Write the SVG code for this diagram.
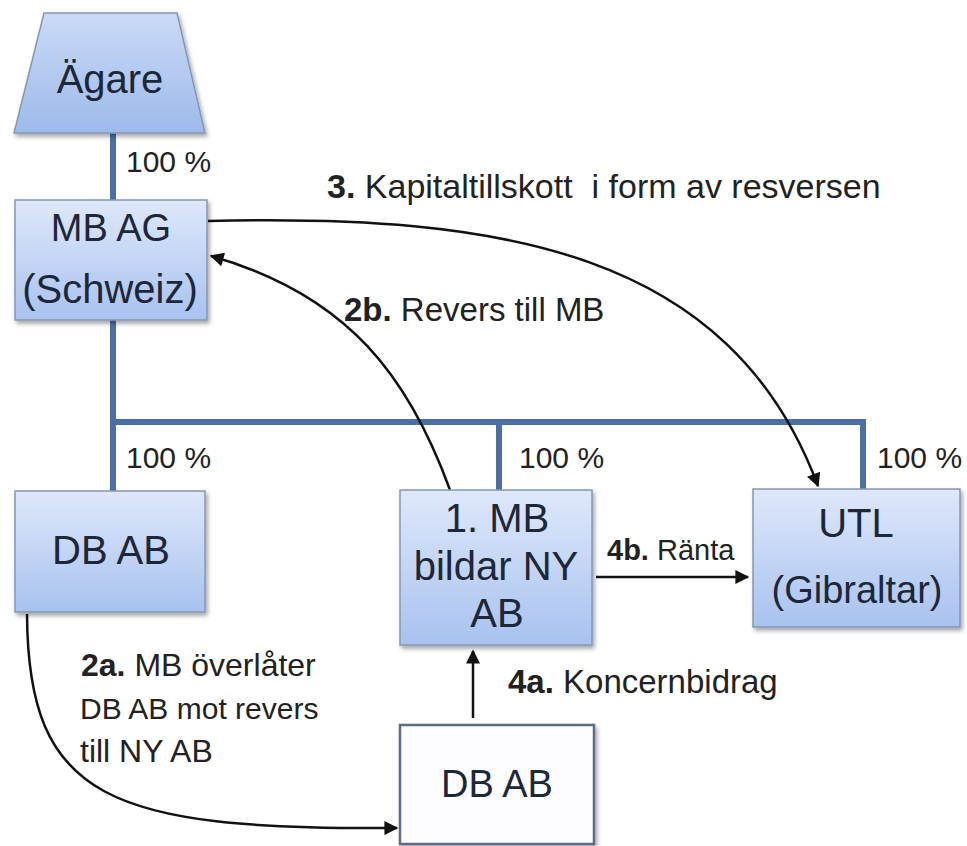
<svg xmlns="http://www.w3.org/2000/svg" width="967" height="846" viewBox="0 0 967 846">
<style>
  .node { stroke: #8596b4; stroke-width: 1.5; filter: url(#shadow); }
  .fill { fill: url(#nodeFill); }
  .ntext { font-family: "Liberation Sans", Arial, sans-serif; font-size: 38px; fill: #1c2738; text-anchor: middle; }
  .lbl { font-family: "Liberation Sans", Arial, sans-serif; font-size: 29px; fill: #222; }
  .own { stroke: #4a6fa5; stroke-width: 6; fill: none; }
  .arr { stroke: #111; stroke-width: 2.5; fill: none; marker-end: url(#ah); }
  .b { font-weight: bold; }
</style>
<defs>
  <linearGradient id="nodeFill" x1="0" y1="0" x2="0" y2="1">
    <stop offset="0" stop-color="#dfe8fb"/>
    <stop offset="1" stop-color="#a8c2ef"/>
  </linearGradient>
  <linearGradient id="trapFill" x1="0" y1="0" x2="0" y2="1">
    <stop offset="0" stop-color="#cbdaf6"/>
    <stop offset="1" stop-color="#9dbaeb"/>
  </linearGradient>
  <filter id="shadow" x="-10%" y="-10%" width="125%" height="130%">
    <feDropShadow dx="2" dy="3" stdDeviation="2" flood-color="#000" flood-opacity="0.35"/>
  </filter>
  <marker id="ah" viewBox="0 0 10 10" refX="9" refY="5" markerWidth="17" markerHeight="14" markerUnits="userSpaceOnUse" orient="auto">
    <path d="M0,0 L10,5 L0,10 z" fill="#111"/>
  </marker>
</defs>

<g id="connectors">
  <line class="own" x1="113" y1="133" x2="113" y2="200"/>
  <line class="own" x1="113" y1="320" x2="113" y2="491"/>
  <polyline class="own" points="110,422 863,422 863,489"/>
  <line class="own" x1="499" y1="422" x2="499" y2="490"/>

  <path class="arr" d="M208,221 C500,214 730,250 818,486"/>
  <path class="arr" d="M450,490 C410,380 350,295 211,256"/>
  <path class="arr" d="M27,614 C28,800 110,830 397,828"/>
  <line class="arr" x1="596" y1="577" x2="748" y2="577"/>
  <line class="arr" x1="473" y1="718" x2="473" y2="651"/>

  <text class="lbl" x="126" y="172" style="font-size:30px">100 %</text>
  <text class="lbl" x="126" y="468" style="font-size:30px">100 %</text>
  <text class="lbl" x="519" y="468" style="font-size:30px">100 %</text>
  <text class="lbl" x="877" y="468" style="font-size:30px">100 %</text>

  <text class="lbl" x="327" y="198" style="font-size:34px" xml:space="preserve"><tspan class="b">3.</tspan> Kapitaltillskott  i form av resversen</text>
  <text class="lbl" x="344" y="321" style="font-size:33px"><tspan class="b">2b.</tspan> Revers till MB</text>
  <text class="lbl" x="81" y="676" style="font-size:32px"><tspan class="b">2a.</tspan> MB överlåter</text>
  <text class="lbl" x="80" y="719" style="font-size:30px">DB AB mot revers</text>
  <text class="lbl" x="80" y="762" style="font-size:32px">till NY AB</text>
  <text class="lbl" x="607" y="560" style="font-size:29px"><tspan class="b">4b.</tspan> Ränta</text>
  <text class="lbl" x="508" y="693" style="font-size:33px"><tspan class="b">4a.</tspan> Koncernbidrag</text>
</g>

<g id="agare">
  <polygon class="node" fill="url(#trapFill)" points="44,13 177,13 205,133 14,133"/>
  <text class="ntext" x="110" y="93" style="font-size:40px">Ägare</text>
</g>

<g id="mbag">
  <rect class="node fill" x="15" y="200" width="192" height="120"/>
  <text class="ntext" x="111" y="241">MB AG</text>
  <text class="ntext" x="110" y="303" style="font-size:40px">(Schweiz)</text>
</g>

<g id="dbab1">
  <rect class="node fill" x="15" y="491" width="190" height="121"/>
  <text class="ntext" x="111" y="564" style="font-size:40px">DB AB</text>
</g>

<g id="nyab">
  <rect class="node fill" x="400" y="490" width="192" height="155"/>
  <text class="ntext" x="497" y="532" style="font-size:40px">1. MB</text>
  <text class="ntext" x="496" y="580" style="font-size:40px">bildar NY</text>
  <text class="ntext" x="497" y="627" style="font-size:40px">AB</text>
</g>

<g id="utl">
  <rect class="node fill" x="753" y="489" width="207" height="138"/>
  <text class="ntext" x="856" y="537" style="font-size:40px">UTL</text>
  <text class="ntext" x="857" y="603">(Gibraltar)</text>
</g>

<g id="dbab2">
  <rect x="400" y="725" width="194" height="119" fill="#fdfdff" stroke="#5d6b88" stroke-width="2.5" filter="url(#shadow)"/>
  <text class="ntext" x="497" y="797">DB AB</text>
</g>
</svg>
